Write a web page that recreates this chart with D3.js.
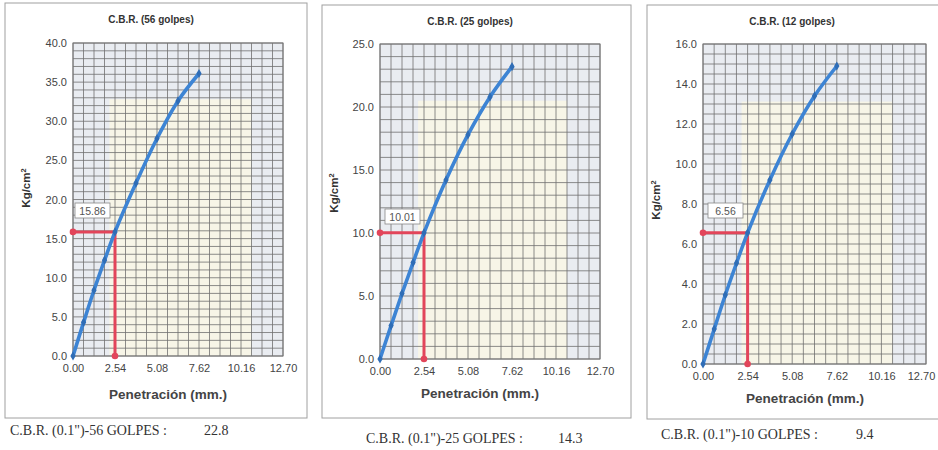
<!DOCTYPE html>
<html><head><meta charset="utf-8">
<script src="https://cdn.jsdelivr.net/npm/d3@7"></script>
<style>body{margin:0;background:#fff}svg{display:block}</style>
</head><body>
<svg id="c" width="938" height="450"></svg>
<script>
const penetration = [0, 0.64, 1.27, 1.91, 2.54, 3.81, 5.08, 6.35, 7.62];
const load56 = [0, 4.3, 8.4, 12.25, 15.86, 22.1, 27.8, 32.6, 36.1];
const load25 = [0, 2.65, 5.2, 7.65, 10.01, 14.2, 17.8, 20.8, 23.2];
const load12 = [0, 1.75, 3.45, 5.05, 6.56, 9.2, 11.5, 13.4, 14.9];
const xTicks = [0, 2.54, 5.08, 7.62, 10.16, 12.70];
const titles = ["C.B.R. (56 golpes)", "C.B.R. (25 golpes)", "C.B.R. (12 golpes)"];
const yMax = [40, 25, 16];
const yTickStep = [5, 5, 2];
const yGridStep = [1, 1, 0.5];
const cbrLoad = [15.86, 10.01, 6.56];
const footLabels = ["C.B.R. (0.1\")-56 GOLPES :", "C.B.R. (0.1\")-25 GOLPES :", "C.B.R. (0.1\")-10 GOLPES :"];
const footValues = ["22.8", "14.3", "9.4"];
const series = [load56, load25, load12];

const layout = [
  {panel:[5,3,302,415], L:73, R:283, T:43, B:356, title:[151,23], ylab:[30,188], xlab:[168,399], box:[75,203], foot:[10,204,435]},
  {panel:[322,5,309,413], L:380, R:600, T:44, B:359, title:[470,25], ylab:[338,193], xlab:[480,398], box:[385,209], foot:[366,558,443]},
  {panel:[647,5,300,414], L:703, R:926, T:44, B:364, title:[792,25], ylab:[660,200], xlab:[805,403], box:[708,203], foot:[661,856,439]}
];

const svg = d3.select("#c");
const sans = "'Liberation Sans', Arial, sans-serif";
const serif = "'Liberation Serif', 'Times New Roman', serif";

layout.forEach((lo, i) => {
  const g = svg.append("g");
  g.append("rect").attr("x", lo.panel[0]).attr("y", lo.panel[1]).attr("width", lo.panel[2]).attr("height", lo.panel[3])
    .attr("fill", "#fff").attr("stroke", "#a0a0a0").attr("stroke-width", 1);

  const x = d3.scaleLinear().domain([0, 12.7]).range([lo.L, lo.R]);
  const y = d3.scaleLinear().domain([0, yMax[i]]).range([lo.B, lo.T]);

  // plot background
  g.append("rect").attr("x", lo.L).attr("y", lo.T).attr("width", lo.R - lo.L).attr("height", lo.B - lo.T).attr("fill", "#e9ecf1");
  g.append("rect").attr("x", x(2.2)).attr("y", y(yMax[i]*0.82)).attr("width", x(10.8)-x(2.2)).attr("height", y(0)-y(yMax[i]*0.82))
    .attr("fill", "#f8f6e6").attr("opacity", 0.95);

  // grid
  const vx = d3.range(0, 21, 1).map(k => k * 0.635);
  g.append("g").selectAll("line").data(vx).join("line")
    .attr("x1", d => x(d)).attr("x2", d => x(d)).attr("y1", lo.T).attr("y2", lo.B)
    .attr("stroke", "#707070").attr("stroke-width", 0.8);
  const nh = Math.round(yMax[i] / yGridStep[i]);
  const hy = d3.range(0, nh + 1).map(k => k * yGridStep[i]);
  g.append("g").selectAll("line").data(hy).join("line")
    .attr("x1", lo.L).attr("x2", lo.R).attr("y1", d => y(d)).attr("y2", d => y(d))
    .attr("stroke", "#707070").attr("stroke-width", 0.8);
  g.append("rect").attr("x", lo.L).attr("y", lo.T).attr("width", lo.R - lo.L).attr("height", lo.B - lo.T)
    .attr("fill", "none").attr("stroke", "#777").attr("stroke-width", 1);

  // axes
  const yt = d3.range(0, yMax[i] + 0.001, yTickStep[i]);
  const yAxis = d3.axisLeft(y).tickValues(yt).tickFormat(d3.format(".1f")).tickSize(0).tickPadding(6);
  const ya = g.append("g").attr("transform", `translate(${lo.L},0)`).call(yAxis);
  const xAxis = d3.axisBottom(x).tickValues(xTicks).tickFormat(d3.format(".2f")).tickSize(0).tickPadding(8);
  const xa = g.append("g").attr("transform", `translate(0,${lo.B})`).call(xAxis);
  [ya, xa].forEach(a => {
    a.select(".domain").remove();
    a.selectAll("text").attr("font-family", sans).attr("font-size", 11).attr("fill", "#444");
  });
  xa.selectAll(".tick text").attr("dx", d => (x(d) + 16 > 937) ? (937 - 16 - x(d)) : 0);

  // titles
  g.append("text").attr("x", lo.title[0]).attr("y", lo.title[1]).attr("text-anchor", "middle")
    .attr("font-family", sans).attr("font-size", 10).attr("font-weight", "bold").attr("fill", "#333").text(titles[i]);
  g.append("text").attr("transform", `translate(${lo.ylab[0]},${lo.ylab[1]}) rotate(-90)`).attr("text-anchor", "middle")
    .attr("font-family", sans).attr("font-size", 11.5).attr("font-weight", "bold").attr("fill", "#333")
    .html("Kg/cm<tspan font-size='7.5' dy='-4'>2</tspan>");
  g.append("text").attr("x", lo.xlab[0]).attr("y", lo.xlab[1]).attr("text-anchor", "middle")
    .attr("font-family", sans).attr("font-size", 13.5).attr("font-weight", "bold").attr("fill", "#444").text("Penetración (mm.)");

  // red lines
  const cx = x(2.54), cy = y(cbrLoad[i]);
  g.append("path").attr("d", `M${x(0)},${cy}H${cx}V${y(0)}`).attr("fill", "none")
    .attr("stroke", "#e2455a").attr("stroke-width", 3);
  g.selectAll(".rd").data([[x(0), cy], [cx, y(0)]]).join("circle")
    .attr("cx", d => d[0]).attr("cy", d => d[1]).attr("r", 3.3).attr("fill", "#e2455a");

  // curve
  const pts = penetration.map((p, k) => [p, series[i][k]]);
  g.append("path").datum(pts)
    .attr("d", d3.line().x(d => x(d[0])).y(d => y(d[1])).curve(d3.curveCatmullRom))
    .attr("fill", "none").attr("stroke", "#3d84d4").attr("stroke-width", 3.6).attr("stroke-linecap", "round");
  g.selectAll(".mk").data(pts).join("path")
    .attr("transform", d => `translate(${x(d[0])},${y(d[1])})`)
    .attr("d", d3.symbol(d3.symbolDiamond, 24)).attr("fill", "#2f6db6");

  // label box
  g.append("rect").attr("x", lo.box[0]).attr("y", lo.box[1]).attr("width", 35).attr("height", 15)
    .attr("fill", "#fff").attr("stroke", "#888").attr("stroke-width", 0.8);
  g.append("text").attr("x", lo.box[0] + 17.5).attr("y", lo.box[1] + 11.5).attr("text-anchor", "middle")
    .attr("font-family", sans).attr("font-size", 10.5).attr("fill", "#555").text(cbrLoad[i].toFixed(2));

  // footer
  g.append("text").attr("x", lo.foot[0]).attr("y", lo.foot[2]).attr("font-family", serif)
    .attr("font-size", 14).attr("fill", "#333").text(footLabels[i]);
  g.append("text").attr("x", lo.foot[1]).attr("y", lo.foot[2]).attr("font-family", serif)
    .attr("font-size", 14).attr("fill", "#333").text(footValues[i]);
});
</script>
</body></html>
